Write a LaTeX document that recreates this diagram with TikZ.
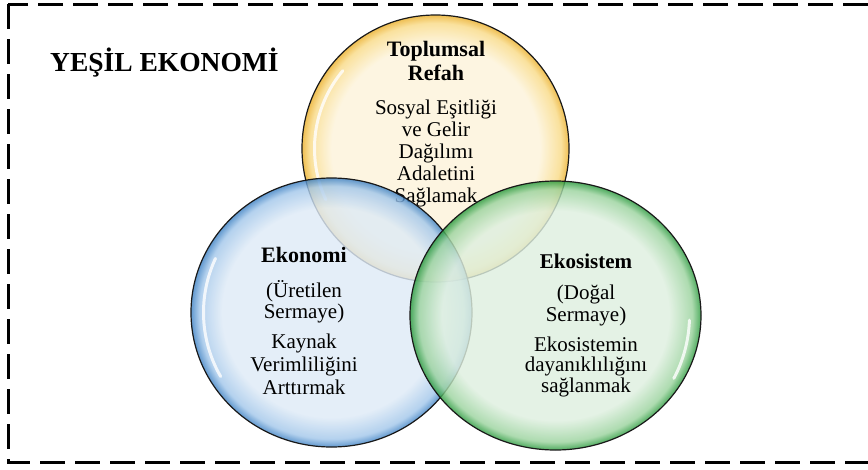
\documentclass[tikz,border=0pt]{standalone}
\usepackage{fontspec}
\setmainfont{Liberation Serif}

\definecolor{refahin}{HTML}{FCF3DA}
\definecolor{refahmid}{HTML}{F9DB88}
\definecolor{refahrim}{HTML}{EBB02C}
\definecolor{ekonomiin}{HTML}{DEEAF6}
\definecolor{ekonomimid}{HTML}{A3C7EA}
\definecolor{ekonomirim}{HTML}{3F82C4}
\definecolor{ekosistemin}{HTML}{DEEFDF}
\definecolor{ekosistemmid}{HTML}{9BD39E}
\definecolor{ekosistemrim}{HTML}{2A9A3D}

\pgfdeclareradialshading{refahglass}{\pgfpoint{0bp}{0bp}}{color(0bp)=(refahin); color(19.5bp)=(refahin); color(23.5bp)=(refahmid); color(25bp)=(refahrim); color(50bp)=(refahrim)}
\pgfdeclareradialshading{ekonomiglass}{\pgfpoint{0bp}{0bp}}{color(0bp)=(ekonomiin); color(19.5bp)=(ekonomiin); color(23.5bp)=(ekonomimid); color(25bp)=(ekonomirim); color(50bp)=(ekonomirim)}
\pgfdeclareradialshading{ekosistemglass}{\pgfpoint{0bp}{0bp}}{color(0bp)=(ekosistemin); color(19.5bp)=(ekosistemin); color(23.5bp)=(ekosistemmid); color(25bp)=(ekosistemrim); color(50bp)=(ekosistemrim)}

\begin{document}
\begin{tikzpicture}[x=1pt,y=-1pt,
    bubble/.style={shade, shading=#1, fill opacity=0.82},
    rim/.style={draw=black!90, draw opacity=1, line width=1.2pt},
    gloss/.style={white, line width=3pt, opacity=0.8, line cap=round},
    head/.style={font=\bfseries\fontsize{22}{24}\selectfont, align=center, anchor=base, inner sep=0pt},
    body/.style={font=\fontsize{21}{22}\selectfont, align=center, anchor=base, inner sep=0pt}]
    \useasboundingbox (0,0) rectangle (868,469);
    \draw[line width=3pt, dash pattern=on 25pt off 10pt] (8,4) rectangle (890,462);
    \node[font=\bfseries\fontsize{27.5}{30}\selectfont, anchor=base west, inner sep=0pt] (baslik) at (50,71) {YEŞİL EKONOMİ};
    % toplumsal refah
    \path[bubble=refahglass] (435.5,148.5) ellipse [x radius=133.5pt, y radius=133.5pt];
    \draw[rim] (435.5,148.5) ellipse [x radius=133.5pt, y radius=133.5pt];
    \draw[gloss] (435.5,148.5) ++(155:121) arc[start angle=155, end angle=220, radius=121];
    \node[head] (refah) at (436,80) {Toplumsal\\Refah};
    \node[body] (refahmetin) at (436,202) {Sosyal Eşitliği\\ve Gelir\\Dağılımı\\Adaletini\\Sağlamak};
    % ekonomi ve ekosistem
    \path[bubble=ekonomiglass] (331.5,312.5) ellipse [x radius=140.5pt, y radius=134.5pt];
    \draw[rim] (331.5,312.5) ellipse [x radius=140.5pt, y radius=134.5pt];
    \draw[gloss] (331.5,312.5) ++(150:128) arc[start angle=150, end angle=205, radius=128];
    \path[bubble=ekosistemglass] (555.5,315.5) ellipse [x radius=145.5pt, y radius=134.5pt];
    \draw[rim] (555.5,315.5) ellipse [x radius=145.5pt, y radius=134.5pt];
    \draw[gloss] (555.5,315.5) ++(2:134) arc[start angle=2, end angle=28, radius=134];
    \node[head] (ekonomi) at (304,262) {Ekonomi};
    \node[body, font=\fontsize{21}{21}\selectfont] (ekonomisermaye) at (304,318) {(Üretilen\\Sermaye)};
    \node[body, font=\fontsize{21}{23}\selectfont] (ekonomimetin) at (304,394) {Kaynak\\Verimliliğini\\Arttırmak};
    \node[head, font=\bfseries\fontsize{21}{23}\selectfont] (ekosistem) at (586,268) {Ekosistem};
    \node[body] (ekosistemsermaye) at (586,321) {(Doğal\\Sermaye)};
    \node[body, font=\fontsize{21}{20.5}\selectfont] (ekosistemmetin) at (586,392) {Ekosistemin\\dayanıklılığını\\sağlanmak};
\end{tikzpicture}
\end{document}
